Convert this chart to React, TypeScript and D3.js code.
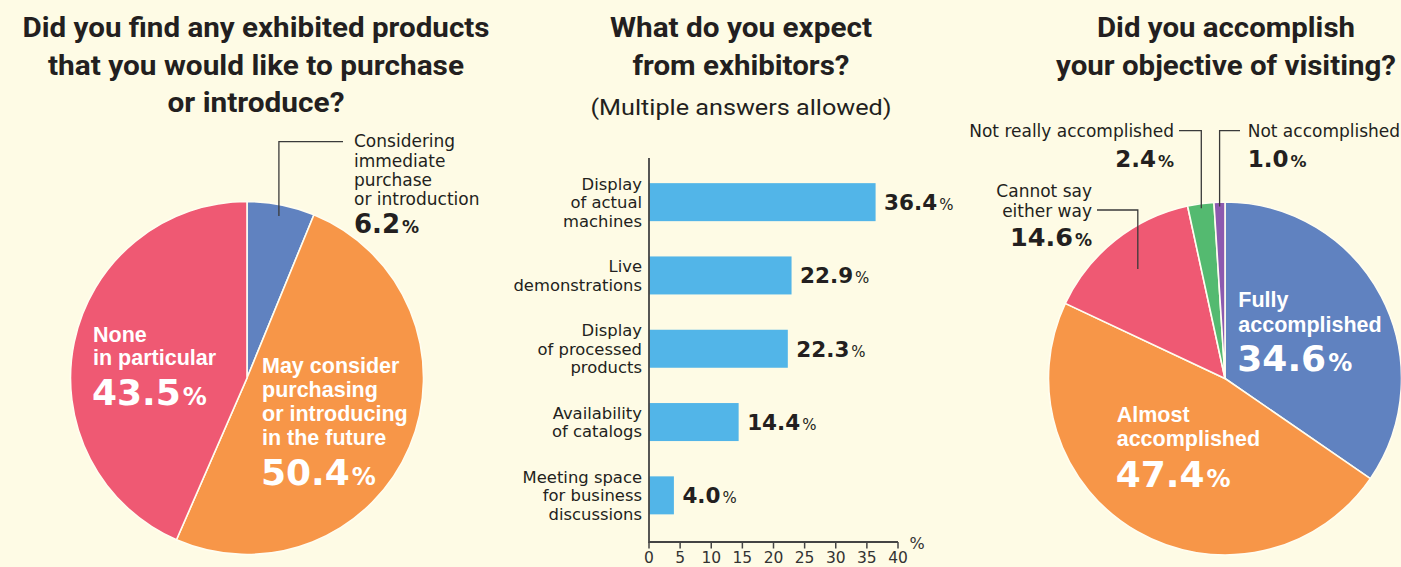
import React from 'react';
import * as d3 from 'd3';

const WIDTH = 1401;
const HEIGHT = 567;
const BG = '#fefbe5';
const INK = '#231f20';
const TITLE_FONT = 'Roboto, "DejaVu Sans", sans-serif';
const LABEL_FONT = '"DejaVu Sans", sans-serif';
const WHITE_FONT = '"Liberation Sans", Arial, sans-serif';

// --- Q1: purchase / introduce
const purchaseNames = [
  ['Considering', 'immediate', 'purchase', 'or introduction'],
  ['May consider', 'purchasing', 'or introducing', 'in the future'],
  ['None', 'in particular'],
];
const purchaseValues = [6.2, 50.4, 43.5];
const purchaseColors = ['#6082c0', '#f79648', '#ef5973'];

// --- Q2: expectations (multiple answers)
const expectNames = [
  ['Display', 'of actual', 'machines'],
  ['Live', 'demonstrations'],
  ['Display', 'of processed', 'products'],
  ['Availability', 'of catalogs'],
  ['Meeting space', 'for business', 'discussions'],
];
const expectValues = [36.4, 22.9, 22.3, 14.4, 4.0];
const expectTicks = [0, 5, 10, 15, 20, 25, 30, 35, 40];

// --- Q3: objective
const objectiveNames = [
  ['Fully', 'accomplished'],
  ['Almost', 'accomplished'],
  ['Cannot say', 'either way'],
  ['Not really accomplished'],
  ['Not accomplished'],
];
const objectiveValues = [34.6, 47.4, 14.6, 2.4, 1.0];
const objectiveColors = ['#6082c0', '#f79648', '#ef5973', '#54ba70', '#8c5aaf'];

// label placement for the pies (annotation layout only)
const purchaseLayout: any[] = [
  { mode: 'out', x: 354, y: 147.3, anchor: 'start', lh: 19.2, numGap: 28.3, numSize: 26, pctSize: 17, leader: { r: 165, elbowY: 141.7, toX: 343 } },
  { mode: 'in', dx: 15, dy: -5, lh: 24, numGap: 40, numSize: 36, pctSize: 24 },
  { mode: 'in', dx: -154, dy: -36.3, lh: 23.5, numGap: 40, numSize: 36, pctSize: 24 },
];
const objectiveLayout: any[] = [
  { mode: 'in', dx: 13.3, dy: -71.8, lh: 25, numGap: 39, numSize: 36, pctSize: 24 },
  { mode: 'in', dx: -108.3, dy: 43.2, lh: 24, numGap: 41, numSize: 36, pctSize: 24 },
  { mode: 'out', x: 1092, y: 197, anchor: 'end', lh: 20, numGap: 29, numSize: 25.5, pctSize: 17, leader: { r: 140, elbowY: 210, toX: 1097 } },
  { mode: 'out', x: 1174, y: 136.7, anchor: 'end', lh: 19, numGap: 30.6, numSize: 23, pctSize: 16, leader: { r: 172, elbowY: 130.7, toX: 1179 } },
  { mode: 'out', x: 1247.7, y: 136.7, anchor: 'start', lh: 19, numGap: 30.6, numSize: 23, pctSize: 16, leader: { r: 172, elbowY: 130.7, toX: 1240 } },
];

const Title = ({ x, lines }: { x: number; lines: { t: string; len: number; y: number; bold?: boolean; size?: number }[] }) => (
  <g fill={INK} fontFamily={TITLE_FONT} textAnchor="middle">
    {lines.map((l, i) => (
      <text key={i} x={x} y={l.y} fontSize={l.size || 28} fontWeight={l.bold === false ? 400 : 700}
        textLength={l.len} lengthAdjust="spacingAndGlyphs">{l.t}</text>
    ))}
  </g>
);

const Pct = ({ x, y, v, numSize, pctSize, fill, anchor, pctWeight }: any) => (
  <text x={x} y={y} textAnchor={anchor} fill={fill} fontFamily={LABEL_FONT}>
    <tspan fontSize={numSize} fontWeight={700}>{v.toFixed(1)}</tspan>
    <tspan fontSize={pctSize} fontWeight={pctWeight || 700} dx={2}>%</tspan>
  </text>
);

const Pie = ({ cx, cy, r, values, colors, names, layout }: any) => {
  const pie = d3.pie<number>().sort(null).value(d => d);
  const arcs = pie(values);
  const arc = d3.arc<d3.PieArcDatum<number>>().innerRadius(0).outerRadius(r);
  return (
    <g>
      <g transform={`translate(${cx},${cy})`}>
        {arcs.map((a, i) => (
          <path key={i} d={arc(a) || ''} fill={colors[i]} stroke="#fffdf0" strokeWidth={1.6} />
        ))}
      </g>
      {arcs.map((a, i) => {
        const L = layout[i];
        const lines: string[] = names[i];
        if (L.mode === 'in') {
          const x = cx + L.dx;
          const y0 = cy + L.dy;
          return (
            <g key={i}>
              {lines.map((s, j) => (
                <text key={j} x={x} y={y0 + j * L.lh} fill="#fff" fontFamily={WHITE_FONT}
                  fontWeight={700} fontSize={21.5}>{s}</text>
              ))}
              <Pct x={x - 1} y={y0 + (lines.length - 1) * L.lh + L.numGap} v={values[i]}
                numSize={L.numSize} pctSize={L.pctSize} fill="#fff" anchor="start" />
            </g>
          );
        }
        const p = d3.arc<d3.PieArcDatum<number>>().innerRadius(L.leader.r).outerRadius(L.leader.r).centroid(a);
        const px = cx + p[0];
        const py = cy + p[1];
        return (
          <g key={i}>
            <path d={`M${px},${py}V${L.leader.elbowY}H${L.leader.toX}`} fill="none" stroke="#3a3a3a" strokeWidth={1.3} />
            {lines.map((s, j) => (
              <text key={j} x={L.x} y={L.y + j * L.lh} textAnchor={L.anchor} fill={INK}
                fontFamily={LABEL_FONT} fontSize={17}>{s}</text>
            ))}
            <Pct x={L.x} y={L.y + (lines.length - 1) * L.lh + L.numGap} v={values[i]}
              numSize={L.numSize} pctSize={L.pctSize} fill={INK} anchor={L.anchor} />
          </g>
        );
      })}
    </g>
  );
};

const Bars = () => {
  const x = d3.scaleLinear().domain([0, 40]).range([649, 898]);
  const keys = expectNames.map((_, i) => String(i));
  const y = d3.scaleBand().domain(keys).range([165.5, 532]).paddingInner(0.4816).paddingOuter(0.2408);
  const axisY = 542;
  return (
    <g>
      {expectValues.map((v, i) => {
        const y0 = y(String(i)) as number;
        const c = y0 + y.bandwidth() / 2;
        const lines = expectNames[i];
        return (
          <g key={i}>
            <rect x={x(0)} y={y0} width={x(v) - x(0)} height={y.bandwidth()} fill="#52b5e8" />
            {lines.map((s, j) => (
              <text key={j} x={642} y={c + (j - (lines.length - 1) / 2) * 18.5 + 6} textAnchor="end"
                fill={INK} fontFamily={LABEL_FONT} fontSize={16.4}>{s}</text>
            ))}
            <Pct x={x(v) + 8.5} y={c + 7.8} v={v} numSize={21.5} pctSize={15} pctWeight={400} fill={INK} anchor="start" />
          </g>
        );
      })}
      <path d={`M${x(0)},158V${axisY}H${x(40)}`} fill="none" stroke="#444" strokeWidth={1.8} />
      {expectTicks.map(t => (
        <g key={t}>
          <line x1={x(t)} x2={x(t)} y1={axisY} y2={axisY + 6.5} stroke="#444" strokeWidth={1.5} />
          <text x={x(t)} y={562.5} textAnchor="middle" fill="#333" fontFamily={LABEL_FONT} fontSize={15.5}>{t}</text>
        </g>
      ))}
      <text x={917} y={549} textAnchor="middle" fill="#333" fontFamily={LABEL_FONT} fontSize={16}>%</text>
    </g>
  );
};

export default function App() {
  return (
    <svg width={WIDTH} height={HEIGHT} style={{ position: 'absolute', left: 0, top: 0, display: 'block' }}>
      <rect width={WIDTH} height={HEIGHT} fill={BG} />
      <Title x={256} lines={[
        { t: 'Did you find any exhibited products', len: 467, y: 37 },
        { t: 'that you would like to purchase', len: 416, y: 75 },
        { t: 'or introduce?', len: 177, y: 112 },
      ]} />
      <Title x={741} lines={[
        { t: 'What do you expect', len: 262, y: 37 },
        { t: 'from exhibitors?', len: 217, y: 75 },
        { t: '(Multiple answers allowed)', len: 301, y: 115, bold: false, size: 22 },
      ]} />
      <Title x={1226} lines={[
        { t: 'Did you accomplish', len: 258, y: 37 },
        { t: 'your objective of visiting?', len: 340, y: 75 },
      ]} />
      <Pie cx={247} cy={378} r={176.5} values={purchaseValues} colors={purchaseColors}
        names={purchaseNames} layout={purchaseLayout} />
      <Bars />
      <Pie cx={1225} cy={378.5} r={176.5} values={objectiveValues} colors={objectiveColors}
        names={objectiveNames} layout={objectiveLayout} />
    </svg>
  );
}
